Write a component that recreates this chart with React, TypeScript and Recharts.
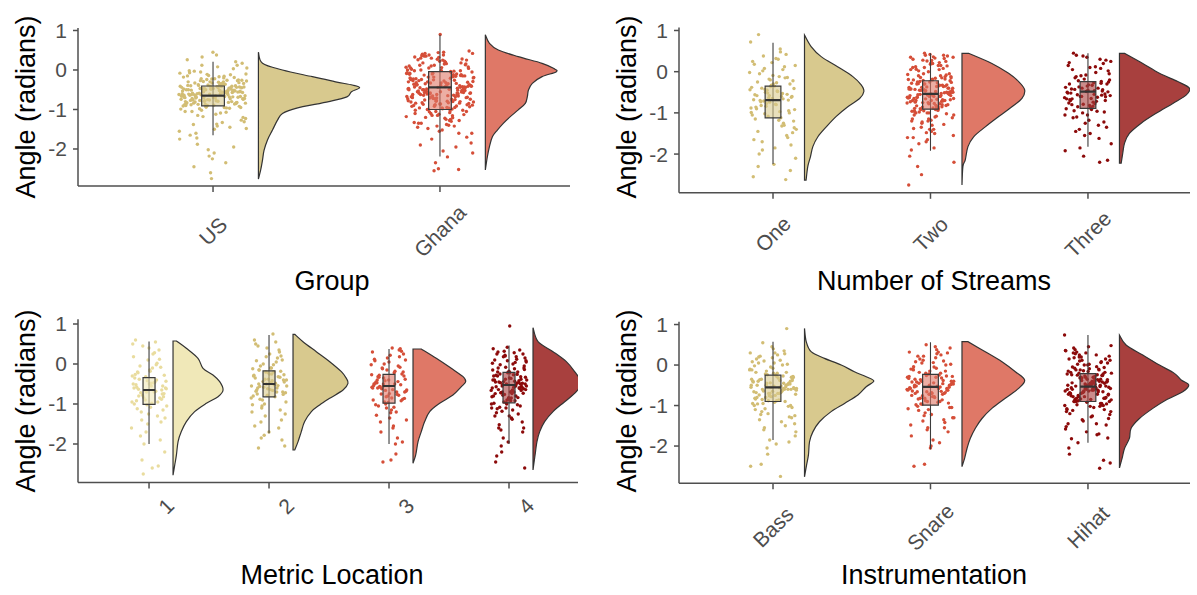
import React from 'react';
import { ComposedChart, Scatter, XAxis, YAxis, Label } from 'recharts';

const FONT = '"Liberation Sans", Arial, Helvetica, sans-serif';

// ---------- categories / ticks ----------
const GROUP_CATS = ['US', 'Ghana'];
const STREAM_CATS = ['One', 'Two', 'Three'];
const METRIC_CATS = ['1', '2', '3', '4'];
const INSTR_CATS = ['Bass', 'Snare', 'Hihat'];
const Y_TICKS = [-2, -1, 0, 1];

// ---------- observations (angle, radians) ----------
const US_VALUES = [-0.62,-0.35,-0.81,0.12,-0.47,-1.05,-0.58,-0.22,-0.74,-1.42,-0.51,0.03,-0.9,-0.66,-0.3,-1.88,-0.43,-0.7,-0.15,-0.97,-0.55,-1.23,-0.38,-0.84,0.21,-0.61,-0.48,-2.35,-0.77,-0.26,-1.12,-0.64,-0.41,-0.93,-0.08,-0.57,-1.6,-0.69,-0.33,-0.86,-0.52,0.33,-1.31,-0.45,-0.72,-0.19,-2.02,-0.6,-0.95,-0.37,-0.67,-1.5,-0.5,-0.12,-0.79,-0.28,-1.09,-0.63,-0.44,-2.6,-0.88,-0.54,-0.05,-0.73,-1.37,-0.4,-0.68,-0.24,-0.99,-0.56,-1.72,-0.32,0.45,-0.83,-0.46,-1.18,-0.65,-0.17,-0.76,-0.53,-2.18,-0.91,-0.36,-0.59,-1.27,-0.71,-0.02,-0.49,-0.87,-1.55,-0.42,-0.66,-0.27,-2.75,-0.8,-0.58,-1.02,-0.34,0.08,-0.62,-1.95,-0.75,-0.44,-0.2,-1.15,-0.55,-0.89,-0.39,-1.45,-0.7,-0.1,-0.52,-2.45,-0.85,-0.3,-0.64,-1.07,-0.47,0.17,-0.78,-1.65,-0.57,-0.94,-0.41,-1.33,-0.69,-0.25,-2.25,-0.5,-0.82,
  -0.48,-0.72,-0.31,-0.59,-0.86,-0.14,-0.53,-0.67,-0.39,-0.95,-0.22,-0.61,-0.44,-0.78,0.05,-0.57,-0.33,-0.82,-0.49,-0.7,-0.26,-0.63,-1.2,-0.42,-0.88,-0.55,-0.11,-0.74,-0.36,-0.6,-0.92,-0.47,0.26,-0.68,-0.29,-0.84,-0.52,-1.38,-0.4,-0.76,-0.18,-0.58,-0.98,-0.45,-0.65,-0.07,-0.8,-0.5,-1.75,-0.35,-0.71,-0.56,-0.23,-0.9,-0.62,0.12,-0.43,-0.79,-1.05,-0.51,-0.38,-0.66,-0.16,-0.87,-0.54,-2.1,-0.3,-0.73,-0.46,-1.48,-0.6,-0.03,-0.83,-0.41,-0.69,-0.96,-0.27,-0.57,0.38,-0.77];
const GHANA_VALUES = [-0.44,0.12,-0.78,-0.21,0.35,-1.05,-0.55,-0.02,-0.91,-0.33,0.42,-1.38,-0.62,-0.15,-0.71,0.05,-1.21,-0.48,-0.85,0.25,-0.38,-1.6,-0.08,-0.67,-0.97,0.18,-0.52,-1.12,-0.27,-0.75,0.38,-1.85,-0.42,-0.59,-0.12,-0.88,0.1,-1.3,-0.35,-0.69,-0.01,-1.02,-0.46,0.3,-0.81,-2.2,-0.24,-0.57,-1.15,0.02,-0.64,-0.3,-0.93,0.45,-1.45,-0.4,-0.18,-0.73,-1.08,-0.5,0.15,-0.86,-0.36,-1.95,-0.6,-0.05,-1.25,-0.45,0.28,-0.79,-0.2,-0.99,-0.54,0.08,-1.52,-0.32,-0.66,-0.1,-1.18,-0.83,0.4,-0.43,-2.5,-0.7,-0.26,-1.0,-0.58,0.22,-1.35,-0.14,-0.9,-0.47,-0.04,-0.76,-1.7,-0.39,0.33,-0.63,-1.1,-0.29,-0.95,0.0,-0.53,-1.42,-0.81,-0.17,-0.61,0.48,-2.05,-0.37,-1.28,-0.72,-0.07,-0.49,-0.87,0.13,-1.55,-0.23,-0.68,-1.06,-0.41,0.2,-0.96,-0.56,-2.35,-0.11,-0.74,-1.2,-0.31,0.06,-0.84,-0.51,-1.75,-0.19,-0.65,0.36,-1.13,-0.44,-0.92,-0.03,-1.48,-0.59,-0.28,0.26,-0.8,-2.55,-0.48,-1.03,-0.13,-0.7,0.9,-1.33,-0.34,-0.58,-0.89,0.16,-1.9,-0.42,-0.77,-0.22,-1.16,-0.55,0.04,-0.98,-0.37,-2.52,-0.66,-0.09,-1.4,-0.5,
  -0.15,0.32,-0.62,-0.95,0.05,-0.4,-1.22,-0.27,0.18,-0.73,-0.5,-0.06,0.42,-0.88,-0.33,-1.1,-0.58,0.1,-0.2,-0.79,-1.35,-0.45,0.27,-0.68,-0.12,-1.0,-0.37,0.38,-0.55,-0.84,-0.25,0.0,-1.28,-0.64,-0.44,0.22,-0.9,-0.16,-0.71,-1.6,-0.32,0.12,-0.52,-1.05,-0.08,-0.77,0.35,-0.41,-0.96,-0.22,-0.6,-1.15,0.07,-0.35,-0.83,-0.48,0.44,-0.66,-1.42,-0.18,-0.74,0.15,-0.53,-0.02,-0.92,-0.3,-1.25,-0.57,0.25,-0.86,-0.43,-0.1,-0.69,-2.1,-0.38,0.3,-1.02,-0.62,-0.24,-0.8];
const ONE_VALUES = [-0.68,0.05,-1.02,-0.41,0.32,-1.45,-0.55,-0.18,-0.88,0.55,-1.7,-0.62,-0.3,-1.15,0.12,-0.77,-2.1,-0.48,-0.05,-0.95,-0.36,0.25,-1.32,-0.71,-0.22,-1.85,-0.58,0.42,-1.08,-0.44,-0.12,-0.82,-2.4,-0.65,0.18,-1.25,-0.5,-0.92,-0.27,0.9,-1.6,-0.74,-0.38,-1.12,0.02,-0.6,-2.25,-0.86,-0.15,-0.45,-1.4,0.3,-0.7,-1.0,-0.33,-2.55,-0.53,0.08,-1.2,-0.79,-0.25,-1.55,-0.63,0.72,-0.97,-0.4,-1.78,-0.09,-0.56,-1.3,-0.84,0.15,-0.47,-2.0,-0.69,-0.2,-1.05,-0.6,0.38,-1.48,-0.35,-0.9,-2.62,-0.52,-0.02,-1.18,-0.73,-0.3,0.22,-1.65,-0.66,-0.43,-1.36,-0.8,-2.3,-0.14,-0.58,-0.99,0.48,-1.9];
const TWO_VALUES = [-0.54,0.1,-0.85,-0.3,0.35,-1.1,-0.62,-0.08,-0.75,-0.42,0.22,-1.35,-0.5,-0.18,-0.95,0.4,-0.66,-1.6,-0.36,0.02,-0.8,-0.25,-1.2,-0.58,0.28,-0.45,-1.85,-0.7,-0.12,-1.0,-0.38,0.15,-0.9,-0.55,-1.45,-0.2,-0.68,0.45,-1.05,-0.48,-2.3,-0.32,-0.78,0.05,-0.6,-1.25,-0.15,-0.88,-0.43,0.32,-1.7,-0.64,-0.27,-0.98,-0.52,0.18,-1.15,-0.72,-0.05,-0.4,-1.5,-0.83,0.25,-0.57,-2.05,-0.34,-0.92,-0.22,-1.3,-0.65,0.08,-0.47,-0.76,-1.08,-0.29,0.38,-0.6,-1.9,-0.1,-0.86,-0.5,-1.4,0.12,-0.7,-0.37,-2.75,-0.94,-0.24,-0.55,-1.18,0.3,-0.8,-0.44,-1.55,-0.16,-0.62,-1.02,0.0,-0.73,-0.33,-2.5,-0.58,0.2,-0.89,-1.28,-0.46,-0.07,-0.67,-1.75,-0.4,0.42,-0.96,-0.53,-0.21,-1.12,-0.77,0.06,-0.35,-1.65,-0.63,-0.9,-0.14,-0.49,0.27,-1.38,-0.71,-0.3,-2.2,-0.82,-0.56,0.14,-1.0,-0.42,-0.6,-1.22,-0.26,0.36,-0.74,-0.51,-1.48,-0.19,-0.87,-0.45,
  -0.4,0.2,-0.7,-0.15,-0.95,-0.5,0.33,-0.3,-0.82,-1.2,-0.58,0.05,-0.45,-0.68,-0.2,-1.05,-0.36,0.4,-0.62,-0.88,-0.1,-0.52,-1.4,-0.28,0.15,-0.75,-0.48,-0.6,-1.0,-0.18,0.26,-0.42,-0.85,-0.55,-0.05,-0.7,-1.6,-0.33,0.1,-0.65,-0.92,-0.25,-0.5,-1.15,0.35,-0.78,-0.38,-0.12,-0.58,-0.98];
const THREE_VALUES = [-0.49,0.1,-0.8,-0.28,0.38,-1.05,-0.55,-0.12,-0.7,-0.35,0.22,-1.3,-0.6,-0.2,-0.92,0.45,-0.44,-1.55,-0.66,-0.02,-0.85,-0.3,-1.18,-0.52,0.3,-0.4,-1.75,-0.74,-0.15,-0.98,-0.48,0.15,-0.62,-1.4,-0.25,-0.88,0.05,-0.57,-2.05,-0.38,-0.78,-1.1,0.28,-0.45,-0.68,-1.62,-0.1,-0.58,-0.33,-0.95,0.2,-1.25,-0.5,-0.72,-0.22,-2.15,-0.82,-0.42,0.08,-1.0,-0.63,-0.27,-1.45,-0.54,0.35,-0.76,-0.4,-1.85,-0.05,-0.65,-1.12,-0.47,-0.18,-0.9,0.12,-0.56,-1.35,-0.32,-0.7,-2.2,-0.6,0.25,-0.84,-0.43,-1.22,-0.08,-0.52,-0.96,-0.37,0.02,-1.5,-0.66,-0.24,-0.79,-1.92,-0.46,0.4,-0.61,-1.05,-0.3];
const M1_VALUES = [-0.65,0.1,-1.0,-0.4,0.45,-1.35,-0.55,-0.2,-0.85,-1.7,-0.3,0.28,-0.72,-1.15,-0.5,0.6,-0.95,-2.0,-0.62,-0.1,-0.8,-1.45,-0.42,0.18,-0.68,-2.4,-0.28,-1.08,-0.58,0.35,-0.9,-1.6,-0.47,-0.05,-0.75,-1.25,-0.35,0.02,-2.75,-0.6,-0.98,-0.22,-1.9,-0.7,0.5,-0.45,-1.2,-0.82,-0.15,-0.52,-2.55,-0.66,-1.05,0.25,-0.38,-0.88,-1.5,-0.6,-0.02,-0.78,-2.2,-0.48,-1.12,0.12,-0.32,-0.95,-0.7,-1.8,-0.55,0.4,-0.26,-1.3,-0.84,-0.43,-2.6,-0.63,-0.08,-1.02,-0.5,0.55,-1.4,-0.74,-0.18,-0.92];
const M2_VALUES = [-0.5,0.2,-0.78,-0.3,0.55,-1.05,-0.45,-0.1,-0.65,0.35,-1.3,-0.55,-0.2,-0.88,0.1,-0.38,-1.55,-0.6,0.0,-0.72,-0.25,0.45,-1.15,-0.5,-0.12,-0.82,-1.85,-0.4,0.25,-0.68,-0.32,-1.0,-0.55,0.75,-0.15,-1.4,-0.62,-0.28,0.05,-0.9,-2.05,-0.46,-0.75,0.3,-0.2,-1.2,-0.52,-0.05,-0.7,-1.7,-0.35,0.15,-0.58,-0.95,-0.42,-2.1,-0.18,0.4,-0.8,-0.48,-1.1,-0.27,-0.64,0.08,-1.6,-0.38,-0.85,-0.02,-0.56,-1.9,-0.22,0.6,-0.7,-0.44,-1.25,-0.1,-0.6,-0.33,0.18,-1.02,-0.5,-1.45,-0.76,-0.25,0.5,-0.54,-1.78,-0.4,-0.66,-0.15];
const M3_VALUES = [-0.55,0.1,-0.85,-0.32,0.38,-1.1,-0.6,-0.18,-0.75,0.25,-1.35,-0.45,-0.05,-0.95,-0.65,-1.6,-0.28,0.32,-0.8,-0.5,-1.2,-0.12,-0.7,-2.4,-0.4,0.18,-1.0,-0.58,-0.22,-1.45,-0.88,0.05,-0.48,-1.85,-0.35,-0.68,0.4,-1.05,-0.52,-0.15,-0.9,-2.0,-0.62,-0.3,0.22,-1.28,-0.78,-0.42,-0.02,-1.55,-0.56,-0.25,-0.96,0.12,-0.7,-2.45,-0.38,-1.15,-0.6,-0.08,-0.82,0.3,-0.5,-1.7,-0.2,-0.74,-1.02,-0.44,0.0,-1.4,-0.64,-0.33,-0.92,0.15,-0.54,-2.25,-0.1,-0.86,-1.22,-0.47,0.35,-0.66,-0.27,-1.08,-0.58,-1.95,-0.4,0.08,-0.76,-0.5];
const M4_VALUES = [-0.52,0.15,-0.85,-0.3,0.35,-1.1,-0.6,-0.12,-0.72,0.25,-1.3,-0.45,-0.2,-0.95,0.05,-0.65,-1.6,-0.38,0.42,-0.8,-0.55,-1.18,-0.05,-0.7,-2.3,-0.42,0.2,-1.0,-0.58,-0.25,-1.45,-0.88,0.1,-0.48,-1.85,-0.33,-0.68,0.3,-1.05,-0.5,-0.15,-0.92,-2.05,-0.62,0.95,-0.28,-1.25,-0.76,-0.4,0.0,-1.52,-0.56,-0.22,-0.98,0.18,-0.7,-2.6,-0.36,-1.12,-0.6,-0.08,-0.82,0.28,-0.47,-1.7,-0.18,-0.74,-1.02,-0.44,0.08,-1.38,-0.64,-0.32,-0.9,0.38,-0.53,-2.2,-0.1,-0.86,-1.22,-0.46,0.22,-0.66,-0.27,-1.08,-0.58,-1.95,-0.4,0.12,-0.78,-0.5,-1.35,-0.2,-0.61,-0.97,0.02,-0.43,-1.65,-0.73,-0.35,-2.45,-0.84,0.32,-0.55,-1.15,
  -0.45,-0.66,0.08,-0.3,-0.8,-0.55,-0.14,-0.92,0.25,-0.6,-0.38,-1.1,-0.7,-0.02,-0.48,-0.84,-1.3,-0.26,0.18,-0.64,-0.74,-0.1,-0.5,-1.0,-0.4,0.04,-0.72,-1.6,-0.22,-0.57];
const BASS_VALUES = [-0.55,0.12,-0.85,-0.3,0.4,-1.1,-0.6,-0.15,-0.72,0.25,-1.35,-0.45,-0.05,-0.95,-0.65,-1.6,-0.28,0.3,-0.8,-0.5,-1.2,-0.1,-0.7,-2.45,-0.4,0.18,-1.0,-0.58,-0.22,-1.45,-0.88,0.05,-0.48,-1.85,-0.35,-0.68,0.55,-1.05,-0.52,-0.18,-0.9,-2.05,-0.62,-0.32,0.22,-1.28,-0.78,-0.42,0.0,-1.55,-0.56,-0.25,-0.96,0.9,-0.7,-2.5,-0.38,-1.15,-0.6,-0.08,-0.82,0.35,-0.5,-1.75,-0.2,-0.74,-1.02,-0.44,0.08,-1.4,-0.64,-0.33,-0.92,0.15,-0.54,-2.2,-0.12,-0.86,-1.22,-0.47,0.45,-0.66,-0.27,-1.08,-0.58,-1.95,-0.4,0.02,-0.76,-0.5,-2.75,-0.6,-1.3,-0.2,-0.84,0.28,-0.45,-1.65,-0.7,-0.36,-1.9,-0.55,
  -0.4,-0.62,0.1,-0.3,-0.75,-0.5,-0.18,-0.88,0.3,-0.56,-0.35,-1.0,-0.65,-0.02,-0.45,-0.8,-1.25,-0.28,0.2,-0.6,-0.7,-0.12,-0.52,-0.95,-0.38,0.05,-0.68,-1.5,-0.24,-0.58];
const SNARE_VALUES = [-0.54,0.1,-0.88,-0.3,0.38,-1.12,-0.62,-0.15,-0.75,0.25,-1.38,-0.45,-0.05,-0.98,-0.68,-1.6,-0.28,0.32,-0.82,-0.5,-1.22,-0.12,-0.72,-2.45,-0.4,0.18,-1.02,-0.58,-0.22,-1.48,-0.9,0.05,-0.48,-1.85,-0.35,-0.7,0.5,-1.08,-0.52,-0.18,-0.94,-2.05,-0.64,-0.32,0.22,-1.3,-0.8,-0.42,0.0,-1.55,-0.56,-0.25,-0.96,0.42,-0.7,-2.5,-0.38,-1.18,-0.6,-0.08,-0.84,0.3,-0.5,-1.75,-0.2,-0.76,-1.05,-0.44,0.08,-1.42,-0.66,-0.33,-0.92,0.15,-0.55,-2.0,-0.1,-0.86,-1.25,-0.47,0.45,-0.66,-0.27,-1.1,-0.58,-1.92,-0.4,0.02,-0.78,-0.5,-1.35,-0.2,-0.62,0.28,-0.45,-1.65,-0.72,
  -0.42,-0.65,0.12,-0.28,-0.78,-0.52,-0.15,-0.9,0.32,-0.58,-0.36,-1.05,-0.68,-0.04,-0.46,-0.82,-1.3,-0.3,0.22,-0.62,-0.72,-0.1,-0.54,-0.97,-0.4,0.06,-0.7,-1.55,-0.26,-0.6];
const HIHAT_VALUES = [-0.53,0.12,-0.86,-0.3,0.38,-1.1,-0.6,-0.15,-0.72,0.25,-1.32,-0.45,-0.05,-0.95,-0.66,-1.58,-0.28,0.32,-0.8,-0.5,-1.2,-0.12,-0.7,-2.42,-0.4,0.18,-1.0,-0.58,-0.22,-1.45,-0.88,0.05,-0.48,-1.82,-0.35,-0.68,0.74,-1.05,-0.52,-0.18,-0.92,-2.05,-0.62,-0.32,0.22,-1.28,-0.78,-0.42,0.0,-1.52,-0.56,-0.25,-0.96,0.45,-0.7,-2.55,-0.38,-1.15,-0.6,-0.08,-0.82,0.3,-0.5,-1.72,-0.2,-0.74,-1.02,-0.44,0.08,-1.38,-0.64,-0.33,-0.9,0.15,-0.54,-2.2,-0.1,-0.84,-1.22,-0.47,0.42,-0.66,-0.27,-1.08,-0.58,-1.92,-0.4,0.02,-0.76,-0.5,-1.35,-0.2,-0.62,0.28,-0.45,-1.65,-0.72,-0.36,0.1,-0.55,-0.85,-1.12,-0.26,-0.64,0.35,-0.48,-0.98,-1.48,-0.16,-0.7,-0.4,0.2,-0.58,-1.26,-0.9,-2.35,-0.3,-0.6,-0.04,-0.78,-1.8,-0.5,-0.24,0.06,-0.68,-1.0,-0.43,-0.12,-0.82,
  -0.35,0.15,-0.66,-0.12,-0.9,-0.48,0.3,-0.26,-0.78,-1.15,-0.55,0.02,-0.42,-0.64,-0.18,-1.02,-0.32,0.48,-0.58,-0.85,-0.06,-0.5,-1.45,-0.24,0.2,-0.72,-0.45,-0.6,-0.98,-0.14,0.36,-0.4,-0.82,-0.52,0.0,-0.68,-1.7,-0.3,0.12,-0.62,-0.9,-0.22,-0.47,-1.1,0.25,-0.75,-0.36,-0.09,-0.56,-0.95];

// ---------- box stats: [lower whisker, Q1, median, Q3, upper whisker] ----------
const US_BOX = [-1.65, -0.91, -0.65, -0.405, 0.21];
const GHANA_BOX = [-2.19, -1.0, -0.44, -0.04, 0.89];
const ONE_BOX = [-2.24, -1.12, -0.69, -0.35, 0.7];
const TWO_BOX = [-1.92, -0.91, -0.54, -0.22, 0.45];
const THREE_BOX = [-1.82, -0.89, -0.485, -0.24, 0.45];
const M1_BOX = [-2.0, -1.01, -0.65, -0.34, 0.56];
const M2_BOX = [-1.73, -0.82, -0.5, -0.17, 0.725];
const M3_BOX = [-2.0, -0.98, -0.55, -0.26, 0.375];
const M4_BOX = [-2.0, -0.97, -0.525, -0.21, 0.46];
const BASS_BOX = [-1.85, -0.9, -0.55, -0.25, 0.575];
const SNARE_BOX = [-2.08, -0.99, -0.54, -0.23, 0.56];
const HIHAT_BOX = [-1.92, -0.9, -0.535, -0.21, 0.74];

// ---------- half-violin profiles: [angle, half-width in category units] ----------
const US_VIOLIN = [[0.45,0],[0.17,0.018],[0.0,0.106],[-0.17,0.238],[-0.3,0.34],[-0.38,0.414],[-0.45,0.446],[-0.55,0.41],[-0.68,0.39],[-0.8,0.31],[-0.97,0.165],[-1.1,0.106],[-1.27,0.084],[-1.52,0.062],[-1.77,0.04],[-2.03,0.025],[-2.28,0.018],[-2.53,0.01],[-2.76,0]];
const GHANA_VIOLIN = [[0.89,0],[0.675,0.018],[0.506,0.057],[0.338,0.145],[0.169,0.25],[0.042,0.3],[-0.042,0.313],[-0.169,0.25],[-0.338,0.207],[-0.506,0.19],[-0.675,0.185],[-0.844,0.176],[-1.01,0.145],[-1.18,0.11],[-1.35,0.079],[-1.52,0.053],[-1.69,0.031],[-1.94,0.018],[-2.19,0.009],[-2.53,0]];
const ONE_VIOLIN = [[0.89,0],[0.61,0.042],[0.365,0.106],[0.12,0.21],[-0.12,0.307],[-0.32,0.36],[-0.48,0.377],[-0.65,0.35],[-0.85,0.275],[-1.09,0.2],[-1.34,0.138],[-1.58,0.085],[-1.82,0.053],[-2.06,0.038],[-2.3,0.021],[-2.63,0.01]];
const TWO_VIOLIN = [[0.446,0.042],[0.2,0.19],[-0.04,0.296],[-0.24,0.36],[-0.44,0.398],[-0.65,0.381],[-0.85,0.317],[-1.09,0.233],[-1.34,0.148],[-1.58,0.074],[-1.82,0.038],[-2.14,0.021],[-2.3,0.006],[-2.75,0]];
const THREE_VIOLIN = [[0.446,0.032],[0.2,0.148],[-0.04,0.254],[-0.24,0.37],[-0.4,0.444],[-0.57,0.423],[-0.77,0.339],[-1.01,0.233],[-1.25,0.138],[-1.5,0.063],[-1.74,0.032],[-1.98,0.021],[-2.22,0.011]];
const M1_VIOLIN = [[0.575,0.028],[0.392,0.111],[0.142,0.208],[-0.108,0.25],[-0.275,0.333],[-0.442,0.389],[-0.65,0.417],[-0.817,0.375],[-0.983,0.278],[-1.19,0.18],[-1.44,0.111],[-1.69,0.069],[-1.94,0.042],[-2.28,0.028],[-2.53,0.014],[-2.78,0]];
const M2_VIOLIN = [[0.742,0.014],[0.558,0.083],[0.308,0.194],[0.058,0.306],[-0.192,0.403],[-0.358,0.444],[-0.483,0.458],[-0.65,0.417],[-0.858,0.306],[-1.025,0.222],[-1.19,0.153],[-1.44,0.097],[-1.69,0.069],[-1.94,0.042],[-2.15,0.014]];
const M3_VIOLIN = [[0.375,0.069],[0.142,0.194],[-0.108,0.319],[-0.317,0.417],[-0.442,0.439],[-0.567,0.403],[-0.775,0.333],[-0.983,0.222],[-1.19,0.139],[-1.44,0.097],[-1.69,0.069],[-1.94,0.042],[-2.28,0.022],[-2.48,0]];
const M4_VIOLIN = [[0.908,0],[0.558,0.042],[0.308,0.167],[0.058,0.278],[-0.192,0.347],[-0.442,0.4],[-0.692,0.361],[-0.942,0.264],[-1.19,0.167],[-1.44,0.097],[-1.69,0.056],[-1.94,0.033],[-2.28,0.017],[-2.65,0]];
const BASS_VIOLIN = [[0.905,0],[0.58,0.011],[0.33,0.042],[0.165,0.127],[0.0,0.233],[-0.165,0.317],[-0.29,0.392],[-0.395,0.44],[-0.535,0.392],[-0.74,0.339],[-0.947,0.254],[-1.15,0.169],[-1.4,0.095],[-1.65,0.053],[-1.89,0.032],[-2.22,0.025],[-2.47,0.013],[-2.76,0]];
const SNARE_VIOLIN = [[0.576,0.038],[0.329,0.148],[0.082,0.254],[-0.165,0.339],[-0.37,0.398],[-0.576,0.36],[-0.82,0.275],[-1.07,0.19],[-1.32,0.127],[-1.56,0.085],[-1.81,0.053],[-2.06,0.032],[-2.3,0.017],[-2.51,0]];
const HIHAT_VIOLIN = [[0.74,0],[0.494,0.042],[0.247,0.148],[0.0,0.254],[-0.206,0.349],[-0.37,0.392],[-0.494,0.44],[-0.658,0.402],[-0.864,0.296],[-1.07,0.212],[-1.32,0.127],[-1.56,0.074],[-1.81,0.063],[-2.06,0.032],[-2.3,0.017],[-2.54,0]];

// ---------- palette ----------
const PAL = {
  khaki: { pt: '#d2bd74', fill: '#d8c98e' },
  pale: { pt: '#e9dc9e', fill: '#f0e8b8' },
  salmon: { pt: '#d54e38', fill: '#df7867' },
  dark: { pt: '#8c0a0a', fill: '#a8403e' },
};

type P = { x: number; y: number };

function violinPath(pts: P[]): string {
  const n = pts.length;
  const prof = pts.slice(1, n - 1);
  let d = `M${pts[0].x},${pts[0].y} L${prof[0].x},${prof[0].y}`;
  for (let i = 0; i < prof.length - 1; i++) {
    const p0 = prof[Math.max(i - 1, 0)];
    const p1 = prof[i];
    const p2 = prof[i + 1];
    const p3 = prof[Math.min(i + 2, prof.length - 1)];
    const c1x = p1.x + (p2.x - p0.x) / 6;
    const c1y = p1.y + (p2.y - p0.y) / 6;
    const c2x = p2.x - (p3.x - p1.x) / 6;
    const c2y = p2.y - (p3.y - p1.y) / 6;
    d += ` C${c1x},${c1y} ${c2x},${c2y} ${p2.x},${p2.y}`;
  }
  d += ` L${pts[n - 1].x},${pts[n - 1].y} Z`;
  return d;
}

function polyPath(pts: P[], closed: boolean): string {
  return pts.map((p, i) => `${i === 0 ? 'M' : 'L'}${p.x},${p.y}`).join(' ') + (closed ? ' Z' : '');
}

const hidden = () => <g />;

const jitter = (i: number, seed: number) => ((((i + seed) * 0.6180339887) % 1) - 0.5) * 0.3;

type Group = { pos: number; values: number[]; box: number[]; violin: number[][]; pal: { pt: string; fill: string }; seed: number };

function groupSeries(g: Group, k: string) {
  const pts = g.values.map((v, i) => ({ x: g.pos + jitter(i, g.seed), y: v }));
  const base = g.pos + 0.2;
  const vio = [
    { x: base, y: g.violin[0][0] },
    ...g.violin.map(([v, w]) => ({ x: base + w, y: v })),
    { x: base, y: g.violin[g.violin.length - 1][0] },
  ];
  const [lo, q1, med, q3, hi] = g.box;
  const hw = 0.05;
  const boxPts = [
    { x: g.pos - hw, y: q3 },
    { x: g.pos + hw, y: q3 },
    { x: g.pos + hw, y: q1 },
    { x: g.pos - hw, y: q1 },
  ];
  const whisk = [{ x: g.pos, y: hi }, { x: g.pos, y: lo }];
  const medPts = [{ x: g.pos - hw, y: med }, { x: g.pos + hw, y: med }];
  const fill = g.pal.fill;
  return [
    <Scatter
      key={k + 'pts'}
      data={pts}
      isAnimationActive={false}
      shape={(p: any) => <circle cx={p.cx} cy={p.cy} r={1.7} fill={g.pal.pt} />}
    />,
    <Scatter
      key={k + 'wh'}
      data={whisk}
      isAnimationActive={false}
      shape={hidden}
      line={(p: any) => <path d={polyPath(p.points, false)} stroke="#3c3c3c" strokeWidth={1.1} fill="none" />}
    />,
    <Scatter
      key={k + 'box'}
      data={boxPts}
      isAnimationActive={false}
      shape={hidden}
      line={(p: any) => (
        <path d={polyPath(p.points, true)} stroke="#3a3a3a" strokeWidth={1.2} fill={fill} fillOpacity={0.6} />
      )}
    />,
    <Scatter
      key={k + 'med'}
      data={medPts}
      isAnimationActive={false}
      shape={hidden}
      line={(p: any) => <path d={polyPath(p.points, false)} stroke="#333" strokeWidth={2.2} fill="none" />}
    />,
    <Scatter
      key={k + 'vio'}
      data={vio}
      isAnimationActive={false}
      shape={hidden}
      line={(p: any) => <path d={violinPath(p.points)} stroke="#333" strokeWidth={1.2} fill={fill} />}
    />,
  ];
}

type PanelProps = {
  left: number;
  top: number;
  width: number;
  height: number;
  margin: { top: number; right: number; bottom: number; left: number };
  xDomain: [number, number];
  yDomain: [number, number];
  cats: string[];
  groups: Group[];
  xTitle: string;
  xTitlePos: [number, number];
  yTitlePos: [number, number];
  tickY: number;
  tickDx: number;
};

const AXIS_COLOR = '#4f4f4f';

function Panel(props: PanelProps) {
  const { cats } = props;
  const renderTick = (p: any) => {
    const idx = Math.round(p.payload.value) - 1;
    const cx = p.x + props.tickDx;
    const cy = props.tickY;
    return (
      <text
        x={cx}
        y={cy}
        transform={`rotate(-45, ${cx}, ${cy})`}
        textAnchor="middle"
        dominantBaseline="central"
        fontSize={21}
        fill="#4d4d4d"
        fontFamily={FONT}
      >
        {cats[idx]}
      </text>
    );
  };
  return (
    <div style={{ position: 'absolute', left: props.left, top: props.top, width: props.width, height: props.height }}>
      <ComposedChart width={props.width} height={props.height} margin={props.margin}>
        <XAxis
          dataKey="x"
          type="number"
          domain={props.xDomain}
          allowDataOverflow
          ticks={cats.map((_, i) => i + 1)}
          tick={renderTick}
          height={50}
          axisLine={{ stroke: AXIS_COLOR, strokeWidth: 1.5 }}
          tickLine={{ stroke: AXIS_COLOR, strokeWidth: 1.5 }}
          tickSize={6}
        >
          <Label
            content={() => (
              <text
                x={props.xTitlePos[0]}
                y={props.xTitlePos[1]}
                textAnchor="middle"
                dominantBaseline="central"
                fontSize={27}
                fill="#000"
                fontFamily={FONT}
              >
                {props.xTitle}
              </text>
            )}
          />
        </XAxis>
        <YAxis
          dataKey="y"
          type="number"
          domain={props.yDomain}
          allowDataOverflow
          ticks={Y_TICKS}
          width={50}
          tick={{ fontSize: 21, fill: '#4d4d4d', fontFamily: FONT }}
          axisLine={{ stroke: AXIS_COLOR, strokeWidth: 1.5 }}
          tickLine={{ stroke: AXIS_COLOR, strokeWidth: 1.5 }}
          tickSize={5}
          tickMargin={6}
        >
          <Label
            content={() => (
              <text
                x={props.yTitlePos[0]}
                y={props.yTitlePos[1]}
                transform={`rotate(-90, ${props.yTitlePos[0]}, ${props.yTitlePos[1]})`}
                textAnchor="middle"
                dominantBaseline="central"
                fontSize={27}
                fill="#000"
                fontFamily={FONT}
              >
                Angle (radians)
              </text>
            )}
          />
        </YAxis>
        {props.groups.flatMap((g, i) => groupSeries(g, 'g' + i))}
      </ComposedChart>
    </div>
  );
}

export default function App() {
  const groupGroups: Group[] = [
    { pos: 1, values: US_VALUES, box: US_BOX, violin: US_VIOLIN, pal: PAL.khaki, seed: 0 },
    { pos: 2, values: GHANA_VALUES, box: GHANA_BOX, violin: GHANA_VIOLIN, pal: PAL.salmon, seed: 11 },
  ];
  const streamGroups: Group[] = [
    { pos: 1, values: ONE_VALUES, box: ONE_BOX, violin: ONE_VIOLIN, pal: PAL.khaki, seed: 5 },
    { pos: 2, values: TWO_VALUES, box: TWO_BOX, violin: TWO_VIOLIN, pal: PAL.salmon, seed: 17 },
    { pos: 3, values: THREE_VALUES, box: THREE_BOX, violin: THREE_VIOLIN, pal: PAL.dark, seed: 29 },
  ];
  const metricGroups: Group[] = [
    { pos: 1, values: M1_VALUES, box: M1_BOX, violin: M1_VIOLIN, pal: PAL.pale, seed: 3 },
    { pos: 2, values: M2_VALUES, box: M2_BOX, violin: M2_VIOLIN, pal: PAL.khaki, seed: 23 },
    { pos: 3, values: M3_VALUES, box: M3_BOX, violin: M3_VIOLIN, pal: PAL.salmon, seed: 41 },
    { pos: 4, values: M4_VALUES, box: M4_BOX, violin: M4_VIOLIN, pal: PAL.dark, seed: 7 },
  ];
  const instrGroups: Group[] = [
    { pos: 1, values: BASS_VALUES, box: BASS_BOX, violin: BASS_VIOLIN, pal: PAL.khaki, seed: 13 },
    { pos: 2, values: SNARE_VALUES, box: SNARE_BOX, violin: SNARE_VIOLIN, pal: PAL.salmon, seed: 31 },
    { pos: 3, values: HIHAT_VALUES, box: HIHAT_BOX, violin: HIHAT_VIOLIN, pal: PAL.dark, seed: 53 },
  ];
  return (
    <div style={{ position: 'absolute', left: 0, top: 0, width: 1197, height: 595, background: '#fff', fontFamily: FONT }}>
      <Panel
        left={0}
        top={0}
        width={600}
        height={300}
        margin={{ top: 28, right: 30, bottom: 64, left: 28 }}
        xDomain={[0.405, 2.573]}
        yDomain={[-2.937, 1.063]}
        cats={GROUP_CATS}
        groups={groupGroups}
        xTitle="Group"
        xTitlePos={[332, 281]}
        yTitlePos={[26, 107]}
        tickY={231}
        tickDx={0}
      />
      <Panel
        left={600}
        top={0}
        width={597}
        height={300}
        margin={{ top: 27.6, right: 7, bottom: 57.2, left: 29 }}
        xDomain={[0.403, 3.648]}
        yDomain={[-2.94, 1.07]}
        cats={STREAM_CATS}
        groups={streamGroups}
        xTitle="Number of Streams"
        xTitlePos={[334, 281]}
        yTitlePos={[27, 107]}
        tickY={234}
        tickDx={0}
      />
      <Panel
        left={0}
        top={295}
        width={600}
        height={300}
        margin={{ top: 24.2, right: 22, bottom: 62.6, left: 28 }}
        xDomain={[0.408, 4.575]}
        yDomain={[-2.96, 1.12]}
        cats={METRIC_CATS}
        groups={metricGroups}
        xTitle="Metric Location"
        xTitlePos={[332, 280]}
        yTitlePos={[26, 106]}
        tickY={211}
        tickDx={17}
      />
      <Panel
        left={600}
        top={295}
        width={597}
        height={300}
        margin={{ top: 26.7, right: 7, bottom: 61.7, left: 29 }}
        xDomain={[0.403, 3.648]}
        yDomain={[-2.92, 1.07]}
        cats={INSTR_CATS}
        groups={instrGroups}
        xTitle="Instrumentation"
        xTitlePos={[334, 280]}
        yTitlePos={[27, 106]}
        tickY={232}
        tickDx={0}
      />
    </div>
  );
}
